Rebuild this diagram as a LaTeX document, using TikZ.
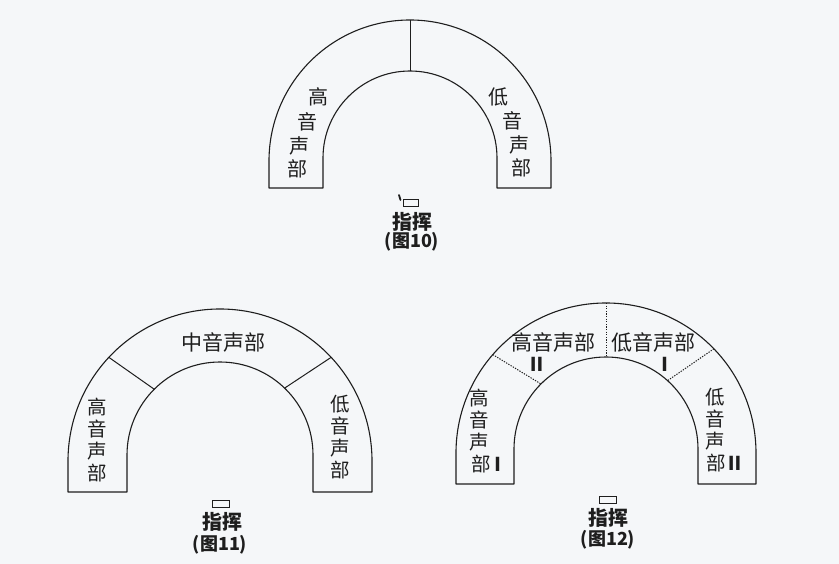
\documentclass[tikz,border=0pt]{standalone}
\usepackage{fontspec}
\newfontfamily\cjk{Noto Sans CJK SC}
\usetikzlibrary{calc}
\definecolor{ink}{HTML}{1E1E1E}
\definecolor{paper}{HTML}{F5F7F9}
\tikzset{
  archline/.style={draw=ink, line width=1.1pt, line join=round},
  solidsep/.style={draw=ink, line width=1.0pt},
  dotsep/.style={draw=ink, line width=1.0pt, dash pattern=on 1.3pt off 1.3pt},
  podium/.style={draw=ink, line width=1.0pt, fill=paper},
  lbl/.style={text=ink, font=\cjk\fontsize{20}{20}\selectfont, inner sep=0pt},
  lblb/.style={text=ink, font=\cjk\fontsize{21}{21}\selectfont, inner sep=0pt},
  lblv/.style={text=ink, font=\cjk\fontsize{19.5}{19.5}\selectfont, inner sep=0pt},
  numr/.style={text=ink, font=\cjk\bfseries\fontsize{19}{19}\selectfont, inner sep=0pt},
  cond/.style={text=ink, font=\cjk\bfseries\fontsize{20}{20}\selectfont, inner sep=0pt},
  capt/.style={text=ink, font=\cjk\bfseries\fontsize{18}{18}\selectfont, inner sep=0pt},
}
% arch: #1 cx, #2 outer center y, #3 outer R, #4 inner center y, #5 inner r, #6 bottom y
\newcommand{\archshape}[6]{%
  \draw[archline] (#1-#3,#6) -- (#1-#3,#2)
    arc[start angle=180,end angle=360,radius=#3] -- (#1+#3,#6)
    -- (#1+#5,#6) -- (#1+#5,#4)
    arc[start angle=360,end angle=180,radius=#5] -- (#1-#5,#6) -- cycle;}
\begin{document}
\begin{tikzpicture}[x=1pt,y=-1pt]
\fill[paper] (0,0) rectangle (839,564);
\useasboundingbox (0,0) rectangle (839,564);

% ---------------- Figure 10 ----------------
\archshape{410}{161}{141}{158}{87}{188}
\coordinate (c10o) at (410,161);
\coordinate (c10i) at (410,158);
\coordinate (t10o) at ($(c10o)+(270:141)$);
\coordinate (t10i) at ($(c10i)+(270:87)$);
\draw[solidsep] (t10o) -- (t10i);
\node[lbl] (h10a) at (318,97) {高};
\node[lbl] (h10b) at (307,122) {音};
\node[lbl] (h10c) at (299,146) {声};
\node[lbl] (h10d) at (297,169) {部};
\node[lbl] (l10a) at (498,97) {低};
\node[lbl] (l10b) at (512,121) {音};
\node[lbl] (l10c) at (519,145) {声};
\node[lbl] (l10d) at (521,168) {部};
\node[podium, minimum width=15pt, minimum height=7pt, inner sep=0pt] (p10) at (411,203) {};
\coordinate (tk1) at (399,195);
\coordinate (tk2) at (400.5,200);
\draw[ink, line width=1.8pt, line cap=round] (tk1) -- (tk2);
\node[cond] (z10) at (412,222) {指挥};
\node[capt] (f10) at (412,242) {(图10)};

% ---------------- Figure 11 ----------------
\archshape{220}{461}{152}{455}{93}{492}
\coordinate (c11o) at (220,461);
\coordinate (c11i) at (220,455);
\coordinate (a11o) at ($(c11o)+(-137:152)$);
\coordinate (a11i) at ($(c11i)+(-135:93)$);
\coordinate (b11o) at ($(c11o)+(-43:152)$);
\coordinate (b11i) at ($(c11i)+(-46:93)$);
\draw[solidsep] (a11o) -- (a11i);
\draw[solidsep] (b11o) -- (b11i);
\node[lblb] (m11) at (223,342) {中音声部};
\node[lblv] (h11a) at (97,407) {高};
\node[lblv] (h11b) at (97,429) {音};
\node[lblv] (h11c) at (97,451) {声};
\node[lblv] (h11d) at (97,473) {部};
\node[lblv] (l11a) at (340,404) {低};
\node[lblv] (l11b) at (340,426) {音};
\node[lblv] (l11c) at (340,448) {声};
\node[lblv] (l11d) at (340,470) {部};
\node[podium, minimum width=17pt, minimum height=7pt, inner sep=0pt] (p11) at (221,504) {};
\node[cond] (z11) at (222,522) {指挥};
\node[capt] (f11) at (220,545) {(图11)};

% ---------------- Figure 12 ----------------
\archshape{606}{453}{150}{449}{92}{484}
\coordinate (c12o) at (606,453);
\coordinate (c12i) at (606,449);
\coordinate (t12o) at ($(c12o)+(270:150)$);
\coordinate (t12i) at ($(c12i)+(270:92)$);
\coordinate (a12o) at ($(c12o)+(-139:150)$);
\coordinate (a12i) at ($(c12i)+(-135:92)$);
\coordinate (b12o) at ($(c12o)+(-44:150)$);
\coordinate (b12i) at ($(c12i)+(-48:92)$);
\draw[dotsep] (t12o) -- (t12i);
\draw[dotsep] (a12o) -- (a12i);
\draw[dotsep] (b12o) -- (b12i);
\node[lblb] (h12t) at (553,342) {高音声部};
\node[numr] (h12n) at (537,364) {Ⅱ};
\node[lblb] (l12t) at (653,342) {低音声部};
\node[numr] (l12n) at (665,364) {Ⅰ};
\node[lblv] (h12a) at (479,398) {高};
\node[lblv] (h12b) at (479,420) {音};
\node[lblv] (h12c) at (479,442) {声};
\node[lblv] (h12d) at (481,464) {部};
\node[numr] (h12e) at (498,464) {Ⅰ};
\node[lblv] (l12a) at (715,397) {低};
\node[lblv] (l12b) at (715,419) {音};
\node[lblv] (l12c) at (715,441) {声};
\node[lblv] (l12d) at (716,463) {部};
\node[numr] (l12e) at (735,463) {Ⅱ};
\node[podium, minimum width=17pt, minimum height=7pt, inner sep=0pt] (p12) at (608,500) {};
\node[cond] (z12) at (608,518) {指挥};
\node[capt] (f12) at (608,540) {(图12)};
\end{tikzpicture}
\end{document}
